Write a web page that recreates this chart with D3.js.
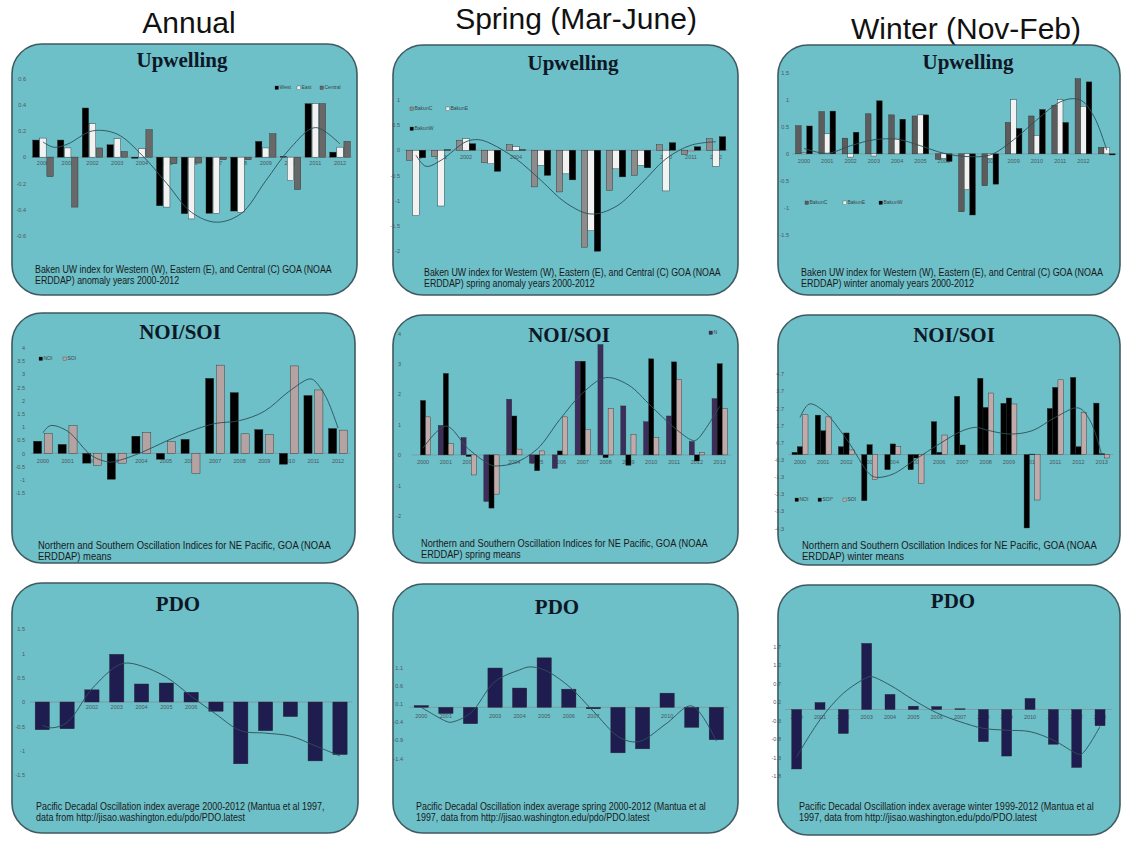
<!DOCTYPE html>
<html><head><meta charset="utf-8">
<script src="https://cdn.jsdelivr.net/npm/d3@7"></script>
<style>body{margin:0;background:#fff}svg{display:block}</style>
</head><body>
<svg id="c" width="1126" height="846"></svg>
<script>
// ---------------- DATA ----------------
const columnTitles = ["Annual", "Spring (Mar-June)", "Winter (Nov-Feb)"];
const panelTitles = ["Upwelling","Upwelling","Upwelling","NOI/SOI","NOI/SOI","NOI/SOI","PDO","PDO","PDO"];
const yrs13 = ["2000","2001","2002","2003","2004","2005","2006","2007","2008","2009","2010","2011","2012"];
const yrs14 = ["2000","2001","2002","2003","2004","2005","2006","2007","2008","2009","2010","2011","2012","2013"];
const yrs14b = ["2000","2001","2002","2003","2004","2005","2006","2007","2008","2009","2010","2011","2012",""];

// Annual upwelling
const upAnnTicks = [0.6,0.4,0.2,0,-0.2,-0.4,-0.6];
const upAnnWest    = [0.13,0.13,0.374,0.094,-0.008,-0.37,-0.43,-0.427,-0.41,0.12,0.005,0.407,0.038];
const upAnnEast    = [0.145,0.07,0.254,0.14,0.064,-0.38,-0.47,-0.427,-0.42,0.07,-0.178,0.407,0.076];
const upAnnCentral = [-0.148,-0.38,0.07,0.043,0.209,-0.05,-0.045,-0.02,-0.02,0.178,-0.247,0.407,0.12];
const upAnnTrend = [[0,0.115],[0.45,0.075],[1,0.1],[2,0.2],[3,0.175],[4,0.015],[5,-0.2],[6,-0.42],[7,-0.495],[8,-0.43],[9,-0.18],[10,0.07],[11,0.225],[12,0.1]];

// Spring upwelling
const upSprTicks = [1,0.5,0,-0.5,-1,-1.5,-2];
const upSprC = [-0.2,-0.13,0.2,-0.25,0.11,-0.73,-0.83,-1.93,-0.8,-0.5,0.11,-0.09,0.23];
const upSprE = [-1.3,-1.11,0.23,-0.27,0.07,-0.3,-0.47,-1.6,-0.37,-0.3,-0.81,-0.03,-0.32];
const upSprW = [-0.15,0.01,0.13,-0.42,0.01,-0.5,-0.59,-2.01,-0.53,-0.35,0.15,0.07,0.27];
const upSprTrend = [[0,-0.1],[0.4,-0.32],[1,-0.2],[2,0.17],[2.5,0.21],[3,0.13],[4,-0.17],[5,-0.6],[6,-1.05],[7,-1.27],[8,-1.12],[9,-0.67],[10,-0.17],[11,0.1],[12,0.17]];

// Winter upwelling
const upWinTicks = [1.5,1,0.5,0,-0.5,-1,-1.5];
const upWinC = [0.52,0.78,0.29,0.74,0.72,0.7,-0.1,-1.07,-0.59,0.58,0.7,0.9,1.39,0.12];
const upWinE = [0.02,0.37,-0.06,-0.04,0.29,0.72,-0.08,-0.66,-0.08,1.0,0.34,1.0,0.88,0.12];
const upWinW = [0.515,0.79,0.4,0.98,0.64,0.72,-0.14,-1.13,-0.56,0.47,0.82,0.58,1.33,-0.02];
const upWinTrend = [[0,0.1],[1,0.01],[2,0.15],[3,0.26],[4,0.27],[5,0.15],[6,0.01],[7,-0.05],[8,-0.02],[9,0.26],[10,0.63],[11,0.96],[11.6,1.02],[12,0.96],[12.5,0.65],[13,0.07]];

// Annual NOI/SOI
const noiAnnTicks = [4,3.5,3,2.5,2,1.5,1,0.5,0,-0.5,-1,-1.5];
const noiAnnNOI = [0.46,0.34,-0.37,-0.98,0.65,-0.22,0.53,2.84,2.3,0.9,-0.41,2.19,0.94];
const noiAnnSOI = [0.75,1.05,-0.45,-0.37,0.78,0.44,-0.76,3.34,0.74,0.71,3.31,2.4,0.88];
const noiAnnTrend = [[0,0.78],[0.3,1.05],[1,0.84],[2,-0.1],[2.7,-0.33],[3,-0.29],[4,0.03],[5,0.46],[6,0.84],[7,1.13],[8,1.24],[9,1.59],[10,2.34],[10.8,2.81],[11,2.78],[11.5,2.15],[12,0.96]];

// Spring NOI/SOI
const noiSprTicks = [4,3,2,1,0,-1,-2];
const noiSprN   = [0,0.97,0.57,-1.53,1.83,-0.27,-0.44,3.08,3.63,1.61,1.09,1.28,0.44,1.85];
const noiSprNOI = [1.79,2.68,-0.05,-1.75,1.28,-0.52,0.13,3.08,-0.09,-0.34,3.16,3.06,-0.2,3.0];
const noiSprSOI = [1.25,0.37,-0.66,-1.29,0.19,0.13,1.25,0.84,1.53,0.68,0.57,2.48,0.08,1.52];
const noiSprTrend = [[0,0.22],[1,0.95],[2,0.19],[3,-0.34],[3.3,-0.36],[4,-0.27],[5,0.19],[6,1.17],[7,2.04],[8,2.54],[9,2.3],[10,1.6],[11,0.9],[11.8,0.48],[12,0.5],[13,1.6]];

// Winter NOI/SOI
const noiWinTicks = [4.7,3.7,2.7,1.7,0.7,-0.3,-1.3,-2.3,-3.3,-4.3];
const noiWinNOI     = [0.13,2.3,0.46,-2.69,-0.88,-0.88,1.92,3.4,4.45,2.99,-4.28,2.69,4.5,3.0];
const noiWinSOIstar = [0.46,1.39,1.26,0.58,0.62,-0.2,0.13,0.56,2.75,3.3,0.03,3.92,0.46,0.05];
const noiWinSOI     = [2.32,2.2,0.27,-1.46,0.46,-1.68,1.14,0,3.59,2.95,-2.65,4.36,2.46,-0.2];
const noiWinTrend = [[0,2.17],[0.4,2.95],[1,2.56],[2,0.91],[3,-1.14],[3.3,-1.33],[4,-1.14],[5,-0.26],[6,0.62],[7,1.39],[7.6,1.59],[8,1.45],[9,1.2],[10,1.39],[11,2.17],[12,2.72],[12.5,1.98],[13,-0.01]];

// PDO
const pdoAnnTicks = [1.5,1,0.5,0,-0.5,-1,-1.5];
const pdoAnn = [-0.57,-0.55,0.25,0.98,0.37,0.39,0.2,-0.19,-1.27,-0.59,-0.3,-1.21,-1.08];
const pdoAnnTrend = [[0,-0.48],[0.4,-0.53],[1,-0.42],[2,0.27],[3,0.74],[3.4,0.8],[4,0.74],[5,0.51],[6,0.12],[7,-0.25],[8,-0.59],[9,-0.64],[10,-0.7],[11,-0.9],[12,-1.11]];
const pdoSprTicks = [1.1,0.6,0.1,-0.4,-0.9,-1.4];
const pdoSpr = [0.05,-0.17,-0.45,1.08,0.53,1.36,0.5,-0.04,-1.25,-1.14,0.39,-0.55,-0.89];
const pdoSprTrend = [[0,0],[1,-0.38],[1.2,-0.41],[2,-0.16],[3,0.71],[4,1.03],[4.4,1.11],[5,1.03],[6,0.58],[7,-0.11],[8,-0.8],[8.6,-0.95],[9,-0.91],[10,-0.43],[11,0.04],[12,-0.93]];
const pdoWinTicks = [1.7,1.2,0.7,0.2,-0.3,-0.8,-1.3,-1.8];
const pdoWin = [-1.61,0.19,-0.65,1.79,0.41,0.09,0.08,0.02,-0.87,-1.26,0.3,-0.94,-1.57,-0.44];
const pdoWinTrend = [[0,-1.28],[1,-0.28],[2,0.44],[3,0.86],[3.2,0.89],[4,0.66],[5,0.26],[6,-0.09],[7,-0.33],[8,-0.51],[9,-0.56],[10,-0.6],[11,-0.83],[12,-1.19],[12.2,-1.21],[13,-0.46]];

const captions = [
 ["Baken UW index for Western (W), Eastern (E), and Central (C) GOA (NOAA","ERDDAP) anomaly years 2000-2012"],
 ["Baken UW index for Western (W), Eastern (E), and Central (C) GOA (NOAA","ERDDAP) spring anomaly years 2000-2012"],
 ["Baken UW index for Western (W), Eastern (E), and Central (C) GOA (NOAA","ERDDAP) winter anomaly years 2000-2012"],
 ["Northern and Southern Oscillation Indices for NE Pacific, GOA (NOAA","ERDDAP) means"],
 ["Northern and Southern Oscillation Indices for NE Pacific, GOA (NOAA","ERDDAP) spring means"],
 ["Northern and Southern Oscillation Indices for NE Pacific, GOA (NOAA","ERDDAP) winter means"],
 ["Pacific Decadal Oscillation index average 2000-2012 (Mantua et al 1997,","data from http://jisao.washington.edu/pdo/PDO.latest"],
 ["Pacific Decadal Oscillation index average spring 2000-2012 (Mantua et al","1997, data from http://jisao.washington.edu/pdo/PDO.latest"],
 ["Pacific Decadal Oscillation index average winter 1999-2012 (Mantua et al","1997, data from http://jisao.washington.edu/pdo/PDO.latest"]
];

// ---------------- STYLE / LAYOUT ----------------
const C_BLACK="#000000", C_WHITE="#f2f2f2", C_DGRAY="#686868", C_MGRAY="#8c8c8c", C_DGRAY2="#5c5c5c",
      C_SOI="#b5a2a2", C_SOI2="#c2aaaa", C_PURP="#3d2d5c", C_NAVY="#1f1c50";

const panels = [
 {box:[12,44,357,295], tx:182, ty:67, cats:yrs13, xr:[30.6,352.4], yd:[-0.6,0.6], yr:[236,78.3], ticks:upAnnTicks, tickX:26, catY:162.7,
  series:[["West",upAnnWest,C_BLACK],["East",upAnnEast,C_WHITE],["Central",upAnnCentral,C_DGRAY]], gw:20.5, pad:0.1, trend:upAnnTrend,
  legend:[[275,88],[297,88],[320,88]], capX:35, capY:273, capW:297},
 {box:[393,45,738,295], tx:573, ty:70, cats:yrs13, xr:[403.5,728.5], yd:[-2,1], yr:[250.7,100], ticks:upSprTicks, tickX:400, catY:157.3,
  series:[["BakunC",upSprC,C_MGRAY],["BakunE",upSprE,C_WHITE],["BakunW",upSprW,C_BLACK]], gw:19.5, pad:0, trend:upSprTrend,
  legend:[[410,109],[446,109],[410,129]], capX:424, capY:276, capW:297},
 {box:[778,45,1120,295], tx:968, ty:69, cats:yrs14b, xr:[792.3,1118.4], yd:[-1.5,1.5], yr:[235,72.7], ticks:upWinTicks, tickX:789, catY:160.7,
  series:[["BakunC",upWinC,C_DGRAY2],["BakunE",upWinE,C_WHITE],["BakunW",upWinW,C_BLACK]], gw:16.7, pad:0, trend:upWinTrend,
  legend:[[805,203],[843,203],[879,203]], capX:801, capY:276, capW:302},
 {box:[12,313,355,563], tx:180, ty:339, cats:yrs13, xr:[30.7,350.3], yd:[-1.5,4], yr:[493,347.7], ticks:noiAnnTicks, tickX:25, catY:460.7,
  series:[["NOI",noiAnnNOI,C_BLACK],["SOI",noiAnnSOI,C_SOI]], gw:19, pad:0.25, trend:noiAnnTrend,
  legend:[[39,359],[63,359]], capX:38, capY:549, capW:293},
 {box:[393,315,738,563], tx:569, ty:342, cats:yrs14, xr:[411.6,731.1], yd:[-2,4], yr:[515.7,333.3], ticks:noiSprTicks, tickX:401, catY:462.3,
  series:[["N",noiSprN,C_PURP],["NOI",noiSprNOI,C_BLACK],["SOI",noiSprSOI,C_SOI2]], gw:15.3, pad:0, trend:noiSprTrend,
  legend:[[709,333]], capX:421, capY:547, capW:287},
 {box:[778,315,1120,565], tx:954, ty:342, cats:yrs14, xr:[788.4,1113.3], yd:[-4.3,4.7], yr:[528.3,374], ticks:noiWinTicks, tickX:784, catY:461.7,
  series:[["NOI",noiWinNOI,C_BLACK],["SOI*",noiWinSOIstar,C_BLACK],["SOI",noiWinSOI,C_SOI2]], gw:16, pad:0, trend:noiWinTrend,
  legend:[[795,500],[818,500],[843,500]], capX:802, capY:549, capW:295},
 {box:[12,583,358,833], tx:178, ty:611, cats:yrs13, xr:[29.9,352.4], yd:[-1.5,1.5], yr:[775,629], ticks:pdoAnnTicks, tickX:25, catY:706.7,
  series:[["PDO",pdoAnn,C_NAVY]], gw:14.3, pad:0, trend:pdoAnnTrend, legend:[], capX:36, capY:809.5, capW:289},
 {box:[393,584,738,833], tx:557, ty:614, cats:yrs13, xr:[409,728.6], yd:[-1.4,1.1], yr:[758.3,667.3], ticks:pdoSprTicks, tickX:403, catY:716,
  series:[["PDO",pdoSpr,C_NAVY]], gw:14.3, pad:0, trend:pdoSprTrend, legend:[], capX:416, capY:810, capW:290},
 {box:[778,585,1120,835], tx:953, ty:608, cats:yrs14, xr:[785,1111.7], yd:[-1.8,1.7], yr:[776,646.7], ticks:pdoWinTicks, tickX:781, catY:716.7,
  series:[["PDO",pdoWin,C_NAVY]], gw:10, pad:0, trend:pdoWinTrend, legend:[], capX:799, capY:810, capW:295}
];

// ---------------- DRAW ----------------
const svg = d3.select("#c");

const colPos = [[189,33],[576,29],[966,39]];
columnTitles.forEach((t,i)=>{
  svg.append("text").attr("x",colPos[i][0]).attr("y",colPos[i][1]).attr("text-anchor","middle")
    .attr("font-family","Liberation Sans, Arial, sans-serif").attr("font-size",30).attr("fill","#111").text(t);
});

const tinyFont = "Liberation Sans, Arial, sans-serif";

panels.forEach((p,pi)=>{
  const g = svg.append("g");
  const [bx0,by0,bx1,by1] = p.box;
  g.append("rect").attr("x",bx0).attr("y",by0).attr("width",bx1-bx0).attr("height",by1-by0)
    .attr("rx",30).attr("ry",30).attr("fill","#6dbfc8").attr("stroke","#405a61").attr("stroke-width",1.6);

  g.append("text").attr("x",p.tx).attr("y",p.ty).attr("text-anchor","middle")
    .attr("font-family","Liberation Serif, Times New Roman, serif").attr("font-weight","bold")
    .attr("font-size",21).attr("fill","#0e1726").text(panelTitles[pi]);

  const y = d3.scaleLinear().domain(p.yd).range(p.yr);
  const x = d3.scaleBand().domain(p.cats.map((c,i)=>i)).range(p.xr);
  const inner = d3.scaleBand().domain(p.series.map(s=>s[0])).range([-p.gw/2,p.gw/2]).paddingInner(p.pad);

  // y tick labels
  const ya = g.append("g").attr("transform",`translate(${p.tickX},0)`)
    .call(d3.axisLeft(y).tickValues(p.ticks).tickSize(0).tickPadding(0).tickFormat(d=>String(d)));
  ya.select(".domain").remove();
  ya.selectAll("text").attr("font-family",tinyFont).attr("font-size",5.5).attr("fill","#4a5759");

  // zero line
  g.append("line").attr("x1",p.xr[0]).attr("x2",p.xr[1]).attr("y1",y(0)).attr("y2",y(0))
    .attr("stroke","#7f9599").attr("stroke-width",0.8);

  // category labels
  const xa = g.append("g").attr("transform",`translate(0,${p.catY})`)
    .call(d3.axisBottom(x).tickSize(0).tickPadding(0).tickFormat(i=>p.cats[i]));
  xa.select(".domain").remove();
  xa.selectAll("text").attr("y",0).attr("dy","0.35em").attr("font-family",tinyFont).attr("font-size",5.5).attr("fill","#4a5759");

  // bars
  p.series.forEach(s=>{
    g.append("g").selectAll("rect").data(s[1]).join("rect")
      .attr("x",(v,i)=>x(i)+x.bandwidth()/2+inner(s[0]))
      .attr("width",inner.bandwidth())
      .attr("y",v=>Math.min(y(v),y(0)))
      .attr("height",v=>Math.abs(y(v)-y(0)))
      .attr("fill",s[2]).attr("stroke","#2a2a2a").attr("stroke-width",0.4);
  });

  // trend line
  const cx = t => x(0)+x.bandwidth()/2+t*x.step();
  g.append("path").datum(p.trend)
    .attr("d",d3.line().x(d=>cx(d[0])).y(d=>y(d[1])).curve(d3.curveCatmullRom.alpha(0.5)))
    .attr("fill","none").attr("stroke","#2c4f58").attr("stroke-width",0.9);

  // legend
  p.legend.forEach((pos,li)=>{
    const s = p.series[li];
    g.append("rect").attr("x",pos[0]).attr("y",pos[1]-2).attr("width",3.5).attr("height",3.5)
      .attr("fill",s[2]).attr("stroke","#333").attr("stroke-width",0.3);
    g.append("text").attr("x",pos[0]+4.5).attr("y",pos[1]+1.4).attr("font-family",tinyFont)
      .attr("font-size",5).attr("fill","#3a4547").text(s[0]);
  });

  // caption
  const cg = g.append("g");
  const t1 = cg.append("text").attr("x",0).attr("y",0).attr("font-family",tinyFont).attr("font-size",10).attr("fill","#1a1a1a").text(captions[pi][0]);
  cg.append("text").attr("x",0).attr("y",11.5).attr("font-family",tinyFont).attr("font-size",10).attr("fill","#1a1a1a").text(captions[pi][1]);
  const nat = t1.node().getComputedTextLength();
  cg.attr("transform",`translate(${p.capX},${p.capY}) scale(${p.capW/nat},1)`);
});
</script>
</body></html>
